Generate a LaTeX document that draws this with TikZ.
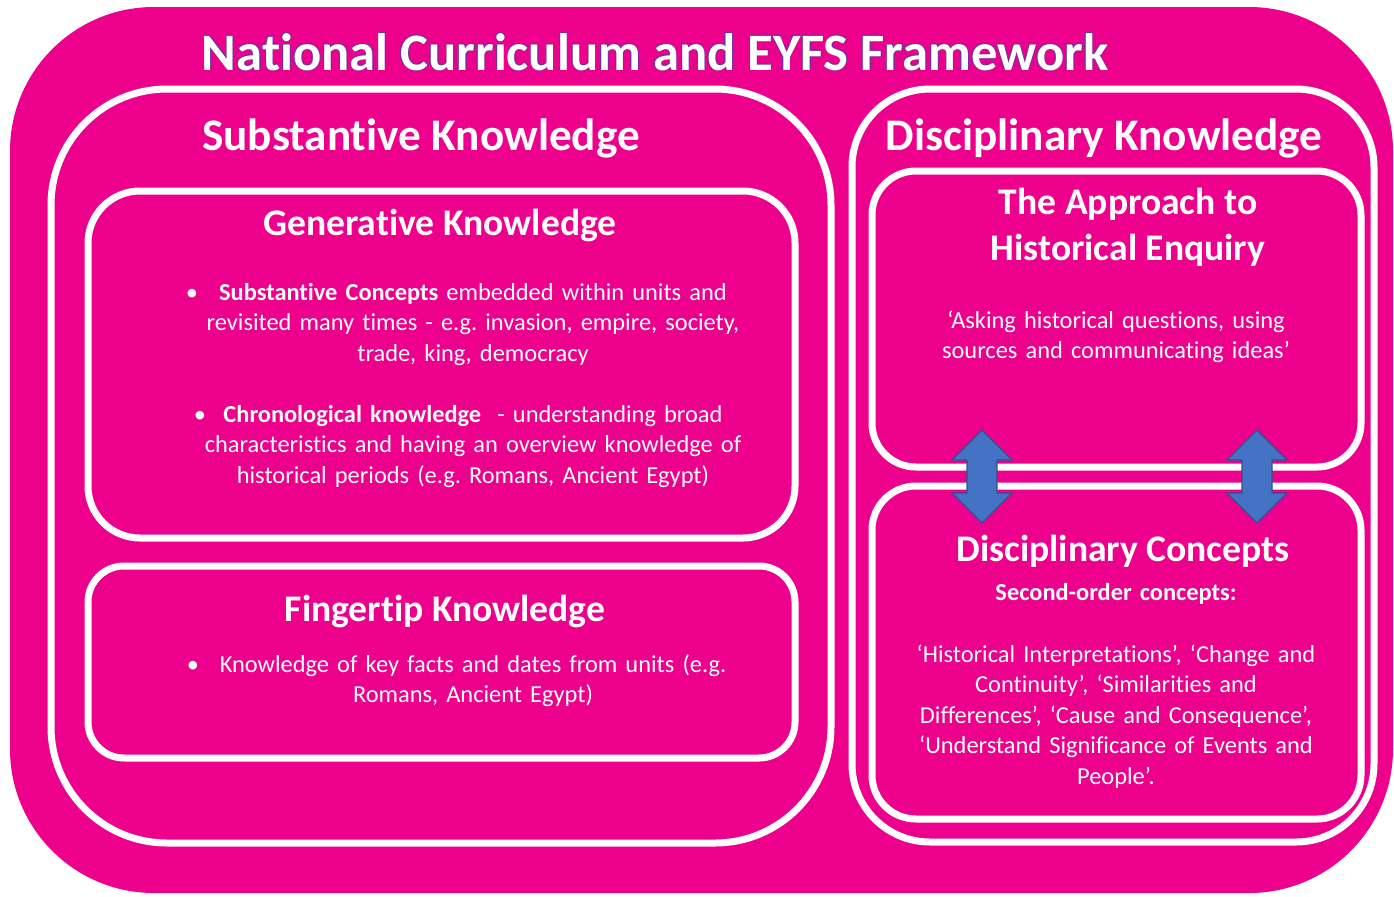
\documentclass[tikz,border=0pt]{standalone}
\usepackage{fontspec}
\setmainfont{Carlito}[Ligatures=NoCommon]
\usetikzlibrary{positioning}
\frenchspacing

\definecolor{curpink}{RGB}{236,0,140}
\definecolor{arrowblue}{RGB}{68,114,196}
\definecolor{arrowedge}{RGB}{47,82,143}
\definecolor{titleedge}{RGB}{112,48,160}

\tikzset{
  panel/.style={draw=white, line width=3.5pt, fill=curpink, inner sep=0pt},
  maintitle/.style={text=white, anchor=base, font=\bfseries\fontsize{26.3}{30}\selectfont},
  heading/.style={text=white, anchor=base, font=\bfseries\fontsize{22.6}{26}\selectfont},
  subheading/.style={text=white, anchor=base, align=center, font=\bfseries\fontsize{18.8}{23}\selectfont},
  body/.style={text=white, anchor=base, align=center, inner sep=0pt, font=\fontsize{12.2}{15.25}\selectfont},
  bullet/.style={text=white, anchor=base, inner sep=0pt, font=\fontsize{12.2}{15.25}\selectfont},
  twoway/.pic={
    \draw[draw=arrowedge, line width=0.6pt, fill=arrowblue]
      (0,-46.5) -- (30,-16.5) -- (15,-16.5) -- (15,16.5) -- (30,16.5) -- (0,46.5)
      -- (-30,16.5) -- (-15,16.5) -- (-15,-16.5) -- (-30,-16.5) -- cycle;
  }
}

\begin{document}
\begin{tikzpicture}[x=0.5pt, y=-0.5pt]
  \useasboundingbox (0,0) rectangle (1394,896);

  % frame and panels
  \node[fill=curpink, rounded corners=72pt, minimum width=691.5pt, minimum height=443pt] (frame) at (701.5,450) {};
  \node[panel, rounded corners=58pt, minimum width=390pt, minimum height=377pt] (subst) at (441,466) {};
  \node[panel, rounded corners=26pt, minimum width=353.5pt, minimum height=173.5pt] (gen) at (441.5,364.5) {};
  \node[panel, rounded corners=18pt, minimum width=353.5pt, minimum height=96pt] (finger) at (441.5,662) {};
  \node[panel, rounded corners=39pt, minimum width=261pt, minimum height=376.5pt] (disc) at (1113,465.5) {};
  \node[panel, rounded corners=22pt, minimum width=244.5pt, minimum height=148pt] (approach) at (1116.5,319) {};
  \node[panel, rounded corners=22pt, minimum width=244.5pt, minimum height=166.5pt] (concepts) at (1116.5,652.5) {};

  % title with a thin outline
  \foreach \dx/\dy in {0.4/0, -0.4/0, 0/0.4, 0/-0.4, 0.3/0.3, -0.3/0.3, 0.3/-0.3, -0.3/-0.3}
    \node[maintitle, text=titleedge, xshift=\dx pt, yshift=\dy pt] at (655,70) {National Curriculum and EYFS Framework};
  \node[maintitle] (title) at (655,70) {National Curriculum and EYFS Framework};

  \node[heading] (substhead) at (421,150) {Substantive Knowledge};
  \node[heading] (dischead) at (1104,150) {Disciplinary Knowledge};

  % substantive side
  \node[subheading] (genhead) at (440,235) {Generative Knowledge};
  \node[bullet] (b1) at (192,300) {•};
  \node[body, text width=320pt] (gentext1) at (473,300)
    {\textbf{Substantive Concepts} embedded within units and\\
     revisited many times - e.g. invasion, empire, society,\\
     trade, king, democracy};
  \node[bullet] (b2) at (200,422) {•};
  \node[body, text width=320pt] (gentext2) at (473,422)
    {\textbf{Chronological knowledge}\ \ - understanding broad\\
     characteristics and having an overview knowledge of\\
     historical periods (e.g. Romans, Ancient Egypt)};

  \node[subheading] (fingerhead) at (445,621) {Fingertip Knowledge};
  \node[bullet] (b3) at (193,672) {•};
  \node[body, text width=320pt] (fingertext) at (473,672)
    {Knowledge of key facts and dates from units (e.g.\\
     Romans, Ancient Egypt)};

  % disciplinary side
  \node[subheading] (approachhead) at (1128,260) {The Approach to\\ Historical Enquiry};
  \node[body, text width=240pt] (approachtext) at (1116,328)
    {‘Asking historical questions, using\\
     sources and communicating ideas’};

  \node[subheading] (conceptshead) at (1123,561) {Disciplinary Concepts};
  \node[body, text width=240pt, font=\bfseries\fontsize{12.2}{15.25}\selectfont] (secondorder) at (1116,600) {Second-order concepts:};
  \node[body, text width=240pt] (conceptstext) at (1116,662)
    {‘Historical Interpretations’, ‘Change and\\
     Continuity’, ‘Similarities and\\
     Differences’, ‘Cause and Consequence’,\\
     ‘Understand Significance of Events and\\
     People’.};

  % links between the two disciplinary panels
  \pic (linkl) at (982,476.5) {twoway};
  \pic (linkr) at (1257,476.5) {twoway};
\end{tikzpicture}
\end{document}
